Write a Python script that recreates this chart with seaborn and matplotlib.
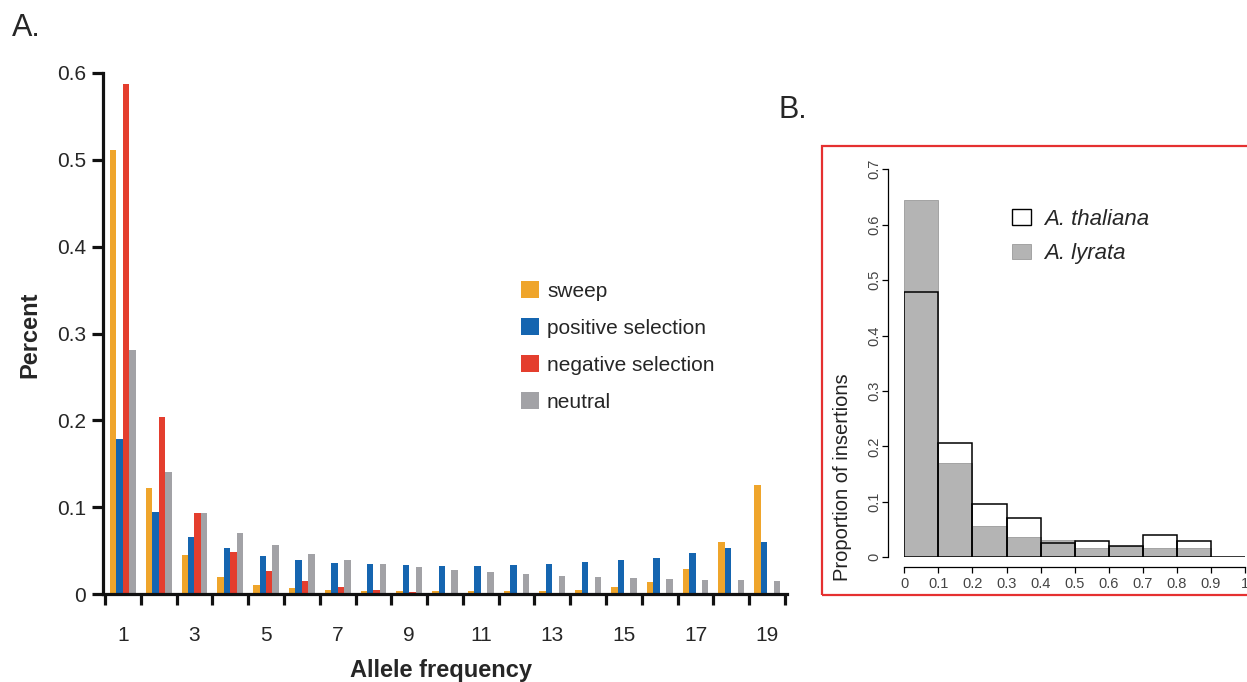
import numpy as np
import pandas as pd
import matplotlib
matplotlib.use("Agg")
import matplotlib.pyplot as plt
from matplotlib.patches import Rectangle, Patch
import seaborn as sns

# ---------------- Data: panel A ----------------
freq_labels = [str(i) for i in range(1, 20)]
sweep = [0.511, 0.122, 0.045, 0.020, 0.010, 0.007, 0.005, 0.004, 0.003, 0.003,
         0.003, 0.0035, 0.004, 0.005, 0.0075, 0.014, 0.029, 0.060, 0.125]
positive = [0.178, 0.094, 0.066, 0.053, 0.044, 0.039, 0.036, 0.034, 0.033, 0.032,
            0.032, 0.033, 0.034, 0.037, 0.039, 0.042, 0.047, 0.053, 0.060]
negative = [0.587, 0.204, 0.093, 0.048, 0.026, 0.015, 0.008, 0.005, 0.002, 0.001,
            0.0, 0.0, 0.0, 0.0, 0.0, 0.0, 0.0, 0.0, 0.0]
neutral = [0.281, 0.140, 0.093, 0.070, 0.056, 0.046, 0.039, 0.034, 0.031, 0.028,
           0.025, 0.023, 0.021, 0.0195, 0.018, 0.017, 0.0165, 0.016, 0.015]
series_names = ["sweep", "positive selection", "negative selection", "neutral"]
series_colors = ["#EFA52B", "#1565B0", "#E43E2E", "#A2A2A6"]

# ---------------- Data: panel B ----------------
bin_edges = [0.0, 0.1, 0.2, 0.3, 0.4, 0.5, 0.6, 0.7, 0.8, 0.9, 1.0]
thaliana = [0.479, 0.207, 0.096, 0.071, 0.025, 0.030, 0.020, 0.040, 0.030, 0.0]
lyrata = [0.645, 0.171, 0.056, 0.037, 0.031, 0.016, 0.020, 0.016, 0.016, 0.0]

sns.set_theme(style="white")
plt.rcParams["font.family"] = ["Liberation Sans", "DejaVu Sans"]

W, H = 1247, 682
fig = plt.figure(figsize=(W / 100, H / 100), dpi=100)

def fx(px):
    return px / W

def fy(py):
    return (H - py) / H

# ================= Panel A =================
axA = fig.add_axes([fx(103), fy(594), fx(787) - fx(103), fy(73) - fy(594)])
dfA = pd.DataFrame({
    "freq": freq_labels * 4,
    "value": sweep + positive + negative + neutral,
    "type": sum([[n] * len(freq_labels) for n in series_names], []),
})
sns.barplot(data=dfA, x="freq", y="value", hue="type", order=freq_labels,
            hue_order=series_names, palette=series_colors, width=0.72,
            saturation=1, linewidth=0, ax=axA, legend=True)

axA.set_xlim(-0.556, 18.556)
axA.set_ylim(0, 0.6)
for s in ["top", "right"]:
    axA.spines[s].set_visible(False)
for s in ["left", "bottom"]:
    axA.spines[s].set_linewidth(2.3)
    axA.spines[s].set_color("#111111")

axA.set_yticks([0, 0.1, 0.2, 0.3, 0.4, 0.5, 0.6])
axA.set_yticklabels(["0", "0.1", "0.2", "0.3", "0.4", "0.5", "0.6"])
axA.tick_params(axis="y", which="major", direction="out", length=8, width=2.3,
                color="#111111", labelsize=15, pad=4, left=True)
boundaries = np.arange(-0.5, 19.0, 1.0)
axA.set_xticks(boundaries)
axA.set_xticklabels([""] * len(boundaries))
axA.set_xticks(np.arange(0, 19, 2), minor=True)
axA.set_xticklabels(freq_labels[::2], minor=True)
axA.tick_params(axis="x", which="major", direction="out", length=8, width=2.3,
                color="#111111", bottom=True)
axA.tick_params(axis="x", which="minor", length=0, labelsize=15, pad=23, bottom=True)

axA.set_xlabel("Allele frequency", fontsize=17, fontweight="bold")
axA.xaxis.set_label_coords(0.494, -0.146)
axA.xaxis.label.set_va("center")
axA.set_ylabel("Percent", fontsize=17, fontweight="bold")
axA.yaxis.set_label_coords(-0.107, 0.497)
axA.yaxis.label.set_va("center")

handles, labels = axA.get_legend_handles_labels()
axA.legend(handles, labels, loc="upper left", bbox_to_anchor=(fx(521), fy(281)),
           bbox_transform=fig.transFigure, frameon=False, fontsize=15,
           handlelength=0.85, handleheight=0.85, handletextpad=0.4,
           labelspacing=0.84, borderpad=0, borderaxespad=0)

fig.text(fx(12), fy(28), "A.", fontsize=22, ha="left", va="center")
fig.text(fx(779), fy(110), "B.", fontsize=22, ha="left", va="center")

# ================= Panel B =================
axB = fig.add_axes([fx(904.3), fy(557.3), fx(1245) - fx(904.3), fy(169.3) - fy(557.3)])
centers = [(bin_edges[i] + bin_edges[i + 1]) / 2 for i in range(len(bin_edges) - 1)]
sns.histplot(x=centers, weights=lyrata, bins=bin_edges, stat="count",
             color="#B4B4B4", alpha=1, edgecolor="#9a9a9a", linewidth=0.6, ax=axB)
sns.histplot(x=centers, weights=thaliana, bins=bin_edges, stat="count",
             fill=False, color="black", linewidth=1.1, ax=axB)
axB.set_xlim(0, 1.0)
axB.set_ylim(0, 0.7)
axB.set_xlabel("")
axB.set_ylabel("")
for s in ["top", "right"]:
    axB.spines[s].set_visible(False)
axB.spines["left"].set_position(("outward", 12))
axB.spines["bottom"].set_position(("outward", 7))
axB.spines["left"].set_bounds(0, 0.7)
axB.spines["bottom"].set_bounds(0, 1.0)
for s in ["left", "bottom"]:
    axB.spines[s].set_linewidth(0.9)
    axB.spines[s].set_color("black")
axB.set_yticks([0, 0.1, 0.2, 0.3, 0.4, 0.5, 0.6, 0.7])
axB.set_yticklabels(["0", "0.1", "0.2", "0.3", "0.4", "0.5", "0.6", "0.7"],
                    rotation=90, va="center")
axB.set_xticks(bin_edges)
axB.set_xticklabels(["0", "0.1", "0.2", "0.3", "0.4", "0.5", "0.6", "0.7", "0.8", "0.9", "1"])
axB.tick_params(axis="both", direction="out", length=4, width=0.9, color="black",
                labelsize=10.5, labelcolor="#444444", left=True, bottom=True)
axB.tick_params(axis="y", pad=0.5)
axB.tick_params(axis="x", pad=3)

legB = [Patch(facecolor="white", edgecolor="black", linewidth=1.0, label="A. thaliana"),
        Patch(facecolor="#B4B4B4", edgecolor="#9a9a9a", linewidth=0.6, label="A. lyrata")]
axB.legend(handles=legB, loc="upper left", bbox_to_anchor=(fx(1012), fy(209)),
           bbox_transform=fig.transFigure, frameon=False,
           prop={"size": 16, "style": "italic"}, handlelength=0.86, handleheight=0.7,
           handletextpad=0.6, labelspacing=0.6, borderpad=0, borderaxespad=0)

fig.text(fx(842), fy(477), "Proportion of insertions", rotation=90, fontsize=14.5,
         ha="center", va="center", color="#222222")

fig.patches.append(Rectangle((fx(822), fy(595)), fx(1300) - fx(822), fy(146) - fy(595),
                             transform=fig.transFigure, fill=False,
                             edgecolor="#E53030", linewidth=1.6, clip_on=False))

fig.savefig("out.png", dpi=100)
